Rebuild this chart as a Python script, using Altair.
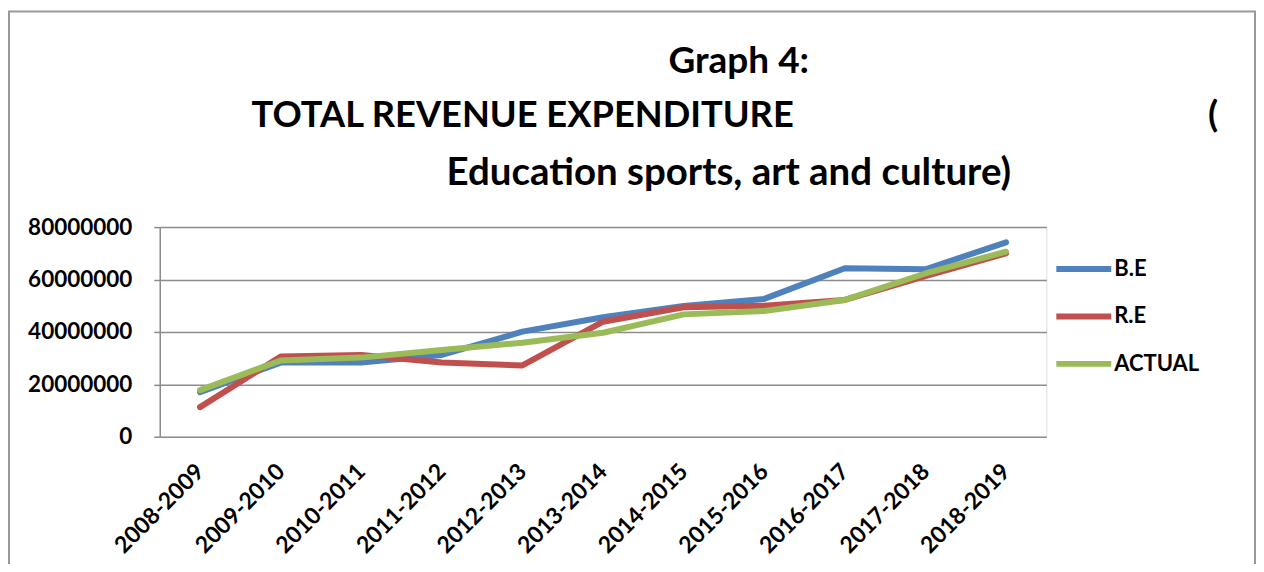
import altair as alt
import pandas as pd

periods = ["2008-2009", "2009-2010", "2010-2011", "2011-2012", "2012-2013", "2013-2014",
           "2014-2015", "2015-2016", "2016-2017", "2017-2018", "2018-2019"]
be = [17000000, 28300000, 28300000, 31200000, 40100000, 45600000,
      49900000, 52600000, 64300000, 63900000, 74200000]
re_ = [11300000, 30600000, 31200000, 28300000, 27200000, 43900000,
       49400000, 50000000, 52200000, 61300000, 70000000]
actual = [17800000, 29100000, 30200000, 33100000, 35900000, 39700000,
          46700000, 48000000, 52200000, 62300000, 70600000]
series_names = ["B.E", "R.E", "ACTUAL"]
series_colors = ["#4F81BD", "#C0504D", "#9BBB59"]

title_line1 = "Graph 4:"
title_line2 = "TOTAL REVENUE EXPENDITURE"
title_paren = "("
title_line3 = "Education sports, art and culture)"

rows = []
for name, vals in zip(series_names, [be, re_, actual]):
    for p, v in zip(periods, vals):
        rows.append({"period": p, "value": v, "series": name})
df = pd.DataFrame(rows)

FONT = "Lato"
GRAY = "#8c8c8c"

lines = alt.Chart(df).mark_line(strokeWidth=6, strokeCap="round", strokeJoin="round").encode(
    x=alt.X("period:N", sort=periods, scale=alt.Scale(type="point", padding=0.5),
            axis=alt.Axis(title=None, labelAngle=-45, labelAlign="right", labelBaseline="middle",
                          labelPadding=31, ticks=False, domain=False, grid=False,
                          labelFont=FONT, labelFontWeight="bold", labelFontSize=23,
                          labelColor="black")),
    y=alt.Y("value:Q", scale=alt.Scale(domain=[0, 80000000], nice=False),
            axis=alt.Axis(title=None, values=[0, 20000000, 40000000, 60000000, 80000000],
                          format="d", labelFont=FONT, labelFontWeight="bold", labelFontSize=22.5,
                          labelColor="black", tickColor=GRAY, tickSize=6, tickWidth=1.5,
                          domainColor=GRAY, domainWidth=1.5, gridColor=GRAY, gridWidth=1.5,
                          labelPadding=22)),
    color=alt.Color("series:N", sort=series_names,
                    scale=alt.Scale(domain=series_names, range=series_colors),
                    legend=alt.Legend(title=None, orient="none", legendX=895, legendY=22,
                                      symbolType="stroke", symbolSize=3025, symbolStrokeWidth=6,
                                      labelFont=FONT, labelFontWeight="bold", labelFontSize=22,
                                      labelColor="black", clipHeight=40, rowPadding=7.5,
                                      labelOffset=0)),
)

frame = alt.Chart(pd.DataFrame({"a": [0]})).mark_rect(fill=None, stroke="#999999", strokeWidth=2).encode(
    x=alt.value(-151), x2=alt.value(1097), y=alt.value(-216), y2=alt.value(345)
)

def title_text(txt, x, y, align, size):
    return alt.Chart(pd.DataFrame({"t": [txt]})).mark_text(
        font=FONT, fontSize=size, fontWeight="bold", color="black",
        align=align, baseline="alphabetic"
    ).encode(text="t:N", x=alt.value(x), y=alt.value(y))

titles = [
    title_text(title_line1, 580, -154, "center", 37),
    title_text(title_line2, 92, -100, "left", 36.3),
    title_text(title_paren, 1050, -100, "left", 37),
    title_text(title_line3, 570, -42, "center", 38.5),
]

chart = alt.layer(frame, lines, *titles).properties(
    width=888, height=210,
    autosize=alt.AutoSizeParams(type="none"),
    padding={"left": 152, "top": 219, "right": 210, "bottom": 127},
).configure_view(stroke=None).configure(background="white")

chart.save("out.html", embed_options={"renderer": "svg", "actions": False})
